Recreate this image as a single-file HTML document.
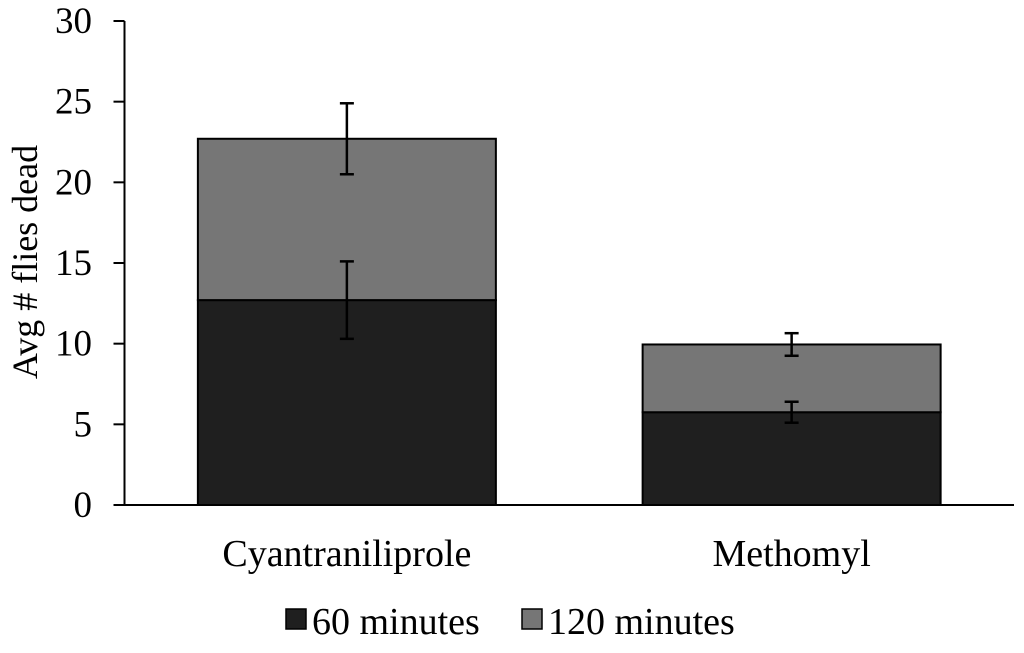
<!DOCTYPE html>
<html><head><meta charset="utf-8"><style>
html,body{margin:0;padding:0;background:#fff;}
svg text{font-family:"Liberation Serif",serif;fill:#000;}
</style></head><body>
<svg id="chart" width="1024" height="648" viewBox="0 0 1024 648">
<g id="axes"></g>
<g id="bars"></g>
<g id="errs"></g>
<text x="37" y="262" font-size="36" text-anchor="middle" transform="rotate(-90 37 262)">Avg # flies dead</text>
<g>
<g><rect x="286" y="609" width="20" height="20" fill="#1f1f1f" stroke="#000" stroke-width="1.5"/><text x="312" y="634" font-size="38">60 minutes</text></g>
<g><rect x="522" y="609" width="20" height="20" fill="#767676" stroke="#000" stroke-width="1.5"/><text x="548" y="634" font-size="38">120 minutes</text></g>
</g>
</svg>
<script>
const categories = ["Cyantraniliprole", "Methomyl"];
const series60 = [12.7, 5.75];
const series120 = [10.0, 4.2];
const err60 = [2.4, 0.65];
const err120 = [2.2, 0.7];
const yTicks = [0, 5, 10, 15, 20, 25, 30];

const NS = "http://www.w3.org/2000/svg";
const y0 = 505, y1 = 21, yMax = 30, axisX = 124.5;
const plotL = 124.5, plotR = 1014, bandW = (plotR - plotL) / categories.length, barW = 298;
function y(v){ return y0 - v / yMax * (y0 - y1); }
function xc(i){ return plotL + bandW * (i + 0.5); }
function mk(tag, attrs, parent){ const e = document.createElementNS(NS, tag); for (const k in attrs) e.setAttribute(k, attrs[k]); parent.appendChild(e); return e; }

const axes = document.getElementById("axes");
const bars = document.getElementById("bars");
const errs = document.getElementById("errs");

let a = mk("line", {x1: axisX, y1: y1, x2: axisX, y2: y0, stroke: "#000", "stroke-width": 2}, axes);


a = mk("line", {x1: axisX - 11, y1: y0, x2: plotR, y2: y0, stroke: "#000", "stroke-width": 2}, axes);


yTicks.forEach(t => {
  const tk = mk("line", {x1: axisX - 11, y1: y(t), x2: axisX, y2: y(t), stroke: "#000", "stroke-width": 2}, axes);
  
  
  const lb = mk("text", {x: 92, y: y(t) + 12, "font-size": 37, "text-anchor": "end"}, axes);
  lb.textContent = t;
  
  
});

categories.forEach((c, i) => {
  const cx = xc(i), l = cx - barW / 2;
  const b1 = mk("rect", {x: l, y: y(series60[i]), width: barW, height: y(0) - y(series60[i]), fill: "#1f1f1f", stroke: "#000", "stroke-width": 2}, bars);
  
  
  const tot = series60[i] + series120[i];
  const b2 = mk("rect", {x: l, y: y(tot), width: barW, height: y(series60[i]) - y(tot), fill: "#767676", stroke: "#000", "stroke-width": 2}, bars);
  
  
  const lb = mk("text", {x: cx, y: 566, "font-size": 38, "text-anchor": "middle"}, axes);
  lb.textContent = c;
  
  
  [[series60[i], err60[i], '60'], [tot, err120[i], '120']].forEach(([v, e, s]) => {
    const g = mk("g", {stroke: "#000", "stroke-width": 2.5}, errs);
    
    
    mk("line", {x1: cx, y1: y(v + e), x2: cx, y2: y(v - e)}, g);
    mk("line", {x1: cx - 7, y1: y(v + e), x2: cx + 7, y2: y(v + e)}, g);
    mk("line", {x1: cx - 7, y1: y(v - e), x2: cx + 7, y2: y(v - e)}, g);
  });
});
</script>
</body></html>
